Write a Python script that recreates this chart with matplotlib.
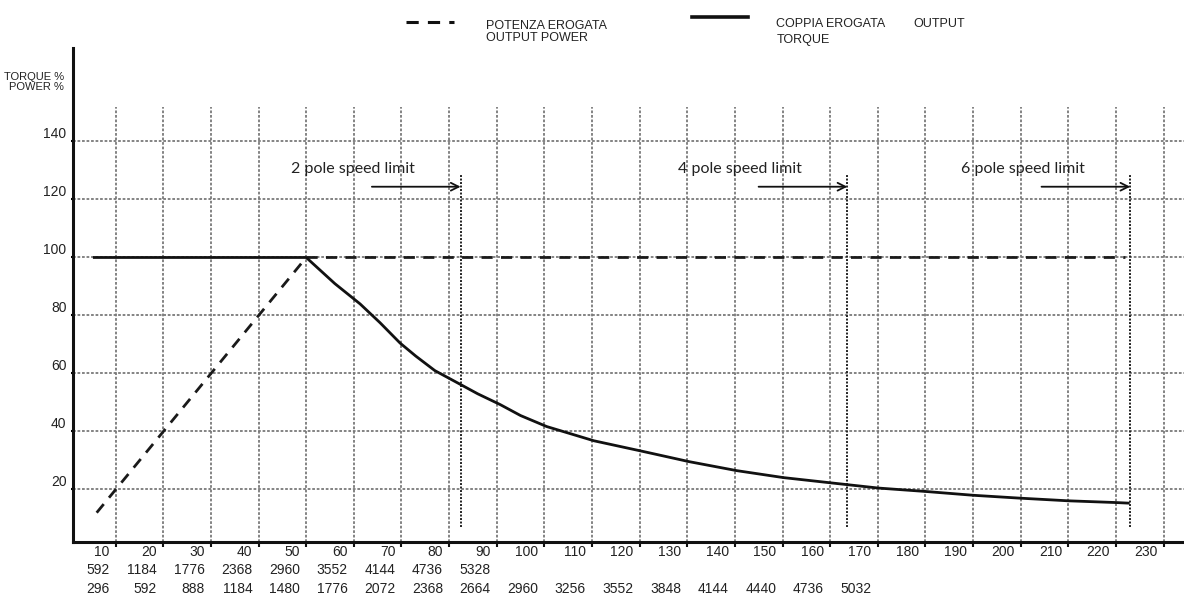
import matplotlib
matplotlib.use("Agg")
import matplotlib.pyplot as plt
from matplotlib.lines import Line2D
from matplotlib.transforms import blended_transform_factory, ScaledTranslation

# Axis values
x_ticks = [10, 20, 30, 40, 50, 60, 70, 80, 90, 100, 110, 120, 130, 140, 150,
           160, 170, 180, 190, 200, 210, 220, 230]
x_labels = [str(v) for v in x_ticks]
rpm_row2 = ["592", "1184", "1776", "2368", "2960", "3552", "4144", "4736", "5328"]
rpm_row3 = ["296", "592", "888", "1184", "1480", "1776", "2072", "2368", "2664",
            "2960", "3256", "3552", "3848", "4144", "4440", "4736", "5032"]
y_ticks = [20, 40, 60, 80, 100, 120, 140]

# Output power (dashed)
power_x = [6, 50, 222]
power_y = [12, 100, 100]

# Output torque (solid)
torque_x = [5.5, 50, 56, 61.3, 65.5, 69.7, 73, 77, 82.3, 86, 90.7, 95, 100.5, 110.4,
            120.5, 130.4, 140.4, 150.2, 160.1, 170.1, 180.2, 190.1, 200, 210, 220, 222.6]
torque_y = [100, 100, 91, 84, 77.5, 70.5, 66, 61, 56.3, 53, 49.3, 45.5, 41.7, 36.8,
            33.2, 29.6, 26.5, 24.1, 22.3, 20.5, 19.3, 18.0, 17.0, 16.1, 15.5, 15.3]

# Speed limits
limit_names = ["2 pole speed limit", "4 pole speed limit", "6 pole speed limit"]
limit_x = [82.4, 163.6, 223.0]

W, H = 1184, 597
plt.rcParams['font.family'] = ['Liberation Sans', 'DejaVu Sans']
fig = plt.figure(figsize=(W / 100, H / 100), dpi=100)

ax = fig.add_axes([73 / W, 55.3 / H, (W - 73) / W, 493.9 / H])
x0, x1 = 1.03, 234.3
y0, y1 = 2, 172.3
ax.set_xlim(x0, x1)
ax.set_ylim(y0, y1)

grid_kw = dict(color='#7a7a7a', lw=1.3, linestyle=(0, (1.5, 1)), zorder=1)
ax.vlines(x_ticks, y0, 152, **grid_kw)
ax.hlines(y_ticks, x0, x1, **grid_kw)

for s in ['top', 'right']:
    ax.spines[s].set_visible(False)
for s in ['left', 'bottom']:
    ax.spines[s].set_linewidth(2.2)
    ax.spines[s].set_color('#111111')

# curves
ax.plot(power_x, power_y, color='#1a1a1a', lw=2, linestyle=(0, (4, 3)), zorder=3)
ax.plot(torque_x, torque_y, color='#111111', lw=2, zorder=4)

# speed limit markers
for name, lx in zip(limit_names, limit_x):
    ax.vlines(lx, 7, 128.6, color='#222222', lw=1.4, linestyle=(0, (1, 0.8)), zorder=3)
    ax.annotate('', xy=(lx + 0.6, 124.4), xytext=(lx - 19.2, 124.4),
                arrowprops=dict(arrowstyle='->', color='#111111', lw=1.3,
                                mutation_scale=14), zorder=5)
    ax.text(lx - 35.5, 130.5, name, ha='left', va='center', fontsize=11.5,
            family=['Lato', 'DejaVu Sans'], color='#222222', zorder=5)

# x ticks and three label rows
ax.set_xticks(x_ticks)
ax.set_xticklabels([])
ax.tick_params(axis='x', direction='out', length=3.5, width=1.5, color='#111111')
tr = blended_transform_factory(ax.transData, fig.transFigure)
rows = [(x_labels, 552), (rpm_row2, 570), (rpm_row3, 589)]
for labels, ypx in rows:
    for xv, lab in zip(x_ticks, labels):
        ax.text(xv - 1.3, 1 - ypx / H, lab, transform=tr, ha='right', va='center',
                fontsize=10, color='#222222', clip_on=False)

# y ticks
ax.set_yticks(y_ticks)
ax.set_yticklabels([str(v) for v in y_ticks], fontsize=10, color='#222222')
ax.tick_params(axis='y', direction='out', length=1.5, width=1.5, pad=3.2)
off = ScaledTranslation(0, 9 / 100, fig.dpi_scale_trans)
for lab in ax.get_yticklabels():
    lab.set_transform(lab.get_transform() + off)

# axis title
fig.text(64 / W, 1 - 77 / H, 'TORQUE %', ha='right', va='center', fontsize=8, color='#222222')
fig.text(64 / W, 1 - 87 / H, 'POWER %', ha='right', va='center', fontsize=8, color='#222222')

# legend at top
fig.add_artist(Line2D([405.7 / W, 453.5 / W], [1 - 22 / H, 1 - 22 / H], color='#111111',
                      lw=2.2, linestyle=(0, (4, 3))))
fig.text(486 / W, 1 - 26 / H, 'POTENZA EROGATA', ha='left', va='center', fontsize=9, color='#222222')
fig.text(486 / W, 1 - 38 / H, 'OUTPUT POWER', ha='left', va='center', fontsize=9, color='#222222')
fig.add_artist(Line2D([691.7 / W, 747.6 / W], [1 - 17.3 / H, 1 - 17.3 / H], color='#111111', lw=2.6))
fig.text(776.5 / W, 1 - 24 / H, 'COPPIA EROGATA', ha='left', va='center', fontsize=9, color='#222222')
fig.text(913 / W, 1 - 24 / H, 'OUTPUT', ha='left', va='center', fontsize=9, color='#222222')
fig.text(776.5 / W, 1 - 40 / H, 'TORQUE', ha='left', va='center', fontsize=9, color='#222222')

fig.savefig('out.png', dpi=100)
